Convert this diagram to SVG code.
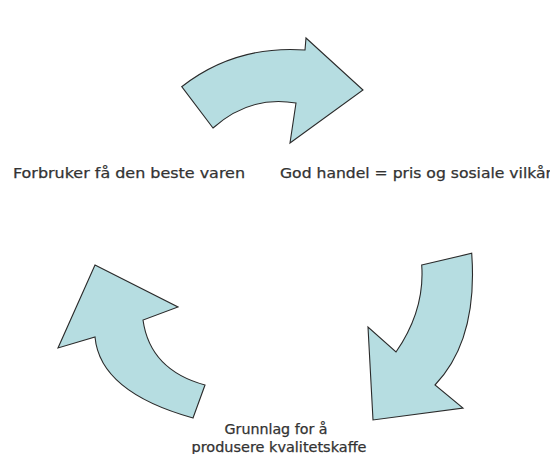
<svg xmlns="http://www.w3.org/2000/svg" width="550" height="454" viewBox="0 0 550 454">
  <style>
    .arrow { fill: #b6dde1; stroke: #2a2a2a; stroke-width: 1.1; stroke-linejoin: miter; }
    .label { font-family: "DejaVu Sans", Verdana, sans-serif; font-size: 13.5px; fill: #333333; stroke: #333333; stroke-width: 0.25; }
  </style>
  <rect width="550" height="454" fill="#ffffff"/>
  <g id="connectors">
    <!-- top curved arrow, pointing right -->
    <path id="arrow-top" class="arrow" d="M181.7,86.7 Q235,45 305,50 L306,38 L363,90 L290,143 L296,103 Q250,95 213,128 Z"/>
    <!-- right curved arrow, pointing down -->
    <path id="arrow-right" class="arrow" d="M421.7,265 L471.7,253.3 Q478,340 435,385 L463,408 L373,420 L368,327 L396,352 Q425,310 421.7,265 Z"/>
    <!-- left curved arrow, pointing up -->
    <path id="arrow-left" class="arrow" d="M95,265 L178,307 L143,320 Q150,370 205,385 L193,418 Q100,392 95,337 L58,348 Z"/>
  </g>
  <g id="node-forbruker">
    <text class="label" x="13" y="178" textLength="232" lengthAdjust="spacingAndGlyphs">Forbruker få den beste varen</text>
  </g>
  <g id="node-handel">
    <text class="label" x="280" y="178" textLength="272" lengthAdjust="spacingAndGlyphs">God handel = pris og sosiale vilkår</text>
  </g>
  <g id="node-grunnlag">
    <text class="label" x="276" y="434" text-anchor="middle" textLength="103" lengthAdjust="spacingAndGlyphs">Grunnlag for å</text>
    <text class="label" x="279" y="452" text-anchor="middle" textLength="175" lengthAdjust="spacingAndGlyphs">produsere kvalitetskaffe</text>
  </g>
</svg>
